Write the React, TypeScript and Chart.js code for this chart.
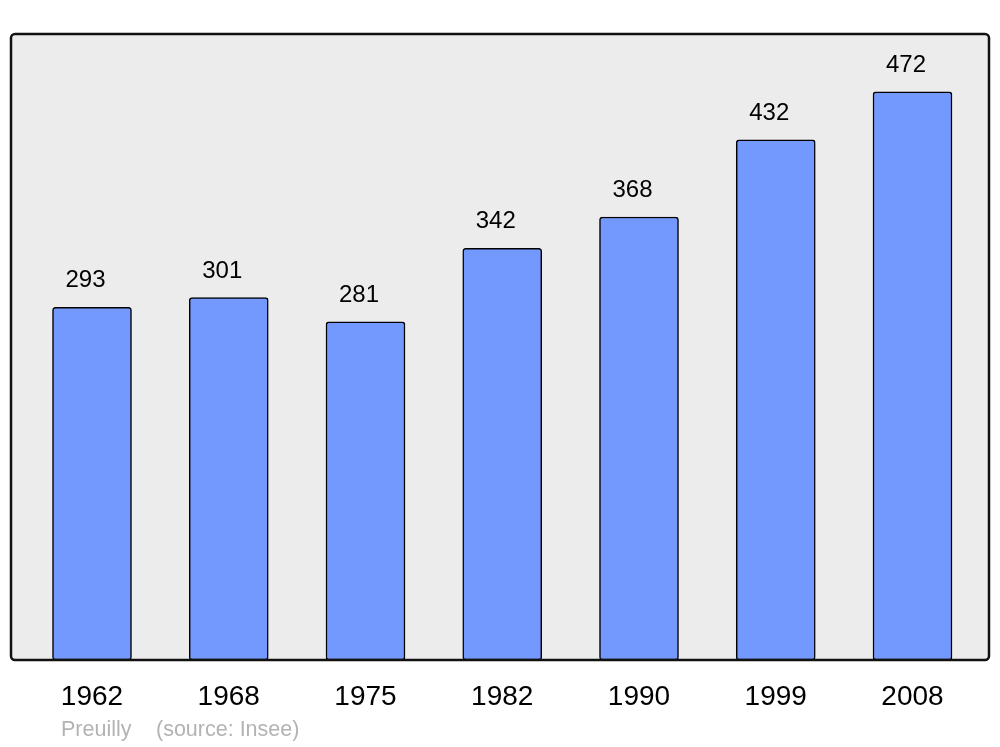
import React, { useEffect, useRef } from "react";
import { Chart, registerables } from "chart.js";

Chart.register(...registerables);

const years = ["1962", "1968", "1975", "1982", "1990", "1999", "2008"];
const population = [293, 301, 281, 342, 368, 432, 472];
const footerName = "Preuilly";
const footerSource = "(source: Insee)";

const FONT = '"Liberation Sans", Arial, sans-serif';

const boxPlugin = {
  id: "boxPlugin",
  beforeDatasetsDraw(chart: any) {
    const { ctx, chartArea } = chart;
    ctx.save();
    ctx.beginPath();
    ctx.roundRect(chartArea.left, chartArea.top, chartArea.right - chartArea.left, chartArea.bottom - chartArea.top, 4);
    ctx.fillStyle = "#ececec";
    ctx.fill();
    ctx.restore();
  },
  afterDatasetsDraw(chart: any) {
    const { ctx, chartArea } = chart;
    ctx.save();
    ctx.beginPath();
    ctx.roundRect(chartArea.left, chartArea.top, chartArea.right - chartArea.left, chartArea.bottom - chartArea.top, 4);
    ctx.lineWidth = 2.5;
    ctx.strokeStyle = "#111111";
    ctx.stroke();
    // value labels
    const meta = chart.getDatasetMeta(0);
    ctx.fillStyle = "#000000";
    ctx.font = `24px ${FONT}`;
    ctx.textAlign = "center";
    ctx.textBaseline = "alphabetic";
    meta.data.forEach((bar: any, i: number) => {
      ctx.fillText(String(population[i]), bar.x - 6.5, bar.y - 20);
    });
    // footer
    ctx.fillStyle = "#b3b3b3";
    ctx.font = `21.5px ${FONT}`;
    ctx.textAlign = "left";
    ctx.fillText(footerName, 61, 736);
    ctx.fillText(footerSource, 156, 736);
    ctx.restore();
  },
};

export default function App() {
  const ref = useRef<HTMLCanvasElement>(null);
  useEffect(() => {
    if (!ref.current) return;
    const chart = new Chart(ref.current, {
      type: "bar",
      data: {
        datasets: [
          {
            data: population.map((v, i) => ({ x: i, y: v })),
            backgroundColor: "#7399ff",
            borderColor: "#000000",
            borderWidth: 1.5,
            borderRadius: 3,
            borderSkipped: false,
            barThickness: 79,
          },
        ],
      },
      options: {
        responsive: false,
        animation: false,
        layout: { padding: { left: 11, right: 11, top: 34, bottom: 0 } },
        plugins: { legend: { display: false }, tooltip: { enabled: false }, title: { display: false } },
        scales: {
          x: {
            type: "linear",
            offset: false,
            min: -0.5923,
            max: 6.5594,
            grid: { display: false, drawTicks: false, offset: false },
            border: { display: false },
            afterFit: (scale: any) => {
              scale.height = 87;
            },
            ticks: {
              stepSize: 1,
              includeBounds: false,
              autoSkip: false,
              maxRotation: 0,
              padding: 20,
              color: "#000000",
              font: { size: 28, family: FONT },
              callback: (v: any) => {
                const i = Number(v);
                return Number.isInteger(i) && years[i] ? years[i] : "";
              },
            },
          },
          y: {
            display: false,
            min: 0,
            max: 520,
          },
        },
      },
      plugins: [boxPlugin],
    });
    return () => chart.destroy();
  }, []);
  return (
    <div style={{ position: "absolute", left: 0, top: 0, width: 1000, height: 747 }}>
      <canvas ref={ref} width={1000} height={747} style={{ width: 1000, height: 747 }} />
    </div>
  );
}
